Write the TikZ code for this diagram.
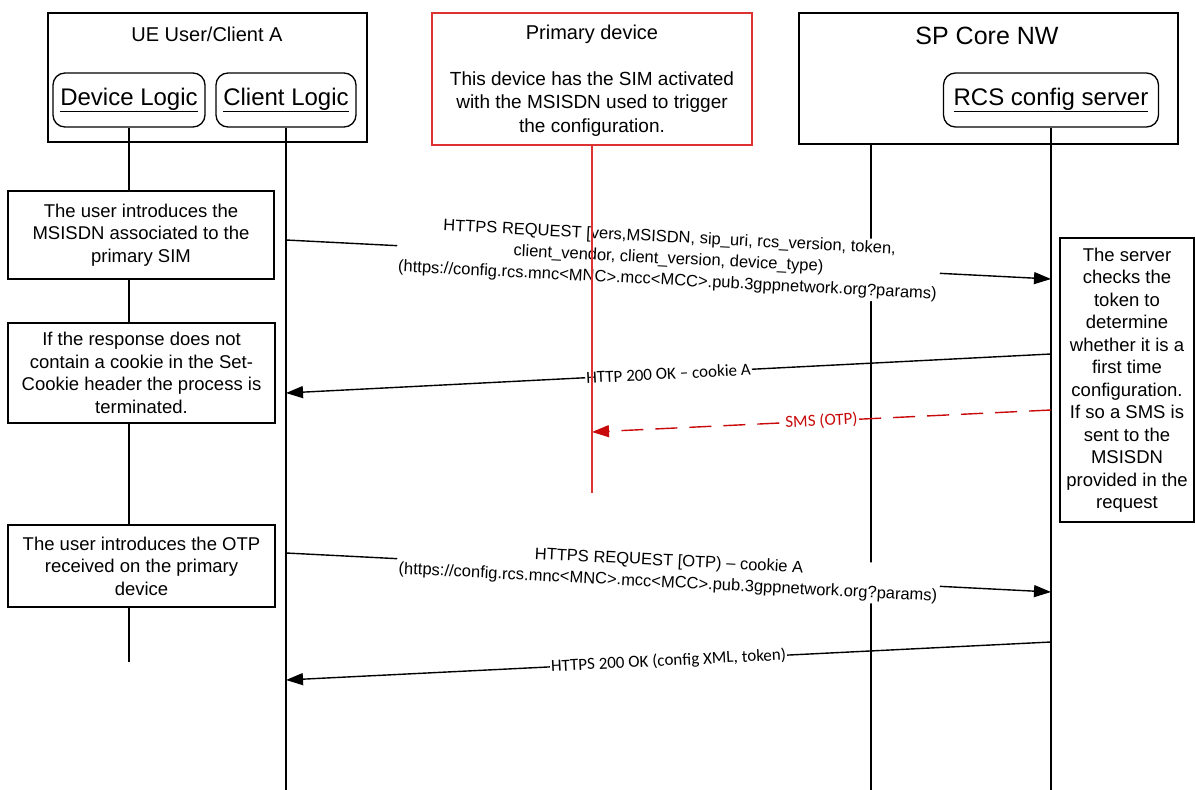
\documentclass[tikz,border=0pt]{standalone}
\usepackage{fontspec}
\setmainfont{Liberation Sans}
\newfontfamily\calibfont{Carlito}
\usetikzlibrary{arrows.meta}

\definecolor{simred}{RGB}{222,50,50}
\definecolor{smsred}{RGB}{200,10,10}

\tikzset{
  grpbox/.style={draw, line width=1.3pt, inner sep=0pt},
  logicbox/.style={draw, line width=1.3pt, rounded corners=12pt, inner sep=0pt,
    font=\fontsize{24}{28}\selectfont},
  notebox/.style={draw, fill=white, line width=1.3pt, inner sep=0pt, align=center,
    font=\fontsize{18.5}{22.5}\selectfont},
  lifeline/.style={line width=1.1pt},
  msg/.style={line width=1.4pt, -{Triangle[length=17pt,width=12pt]}},
  msglbl/.style={fill=white, inner sep=2pt, align=center,
    font=\fontsize{16.5}{21.5}\selectfont},
  acklbl/.style={fill=white, inner sep=1pt, font=\calibfont\fontsize{17}{20}\selectfont},
}

\begin{document}
\begin{tikzpicture}[x=1pt, y=-1pt]

  \useasboundingbox (0,0) rectangle (1195,790);

  % heads: UE (48..367), primary (432..752), core (799..1178)
  \node[grpbox, minimum width=319, minimum height=129] (ue) at (207.5,77.5) {};
  \node[font=\fontsize{20}{24}\selectfont] (ueTitle) at (207,34) {UE User/Client A};
  \node[logicbox, minimum width=152, minimum height=54] (devlogic) at (129,100) {\underline{Device Logic}};
  \node[logicbox, minimum width=140, minimum height=54] (clilogic) at (286,100) {\underline{Client Logic}};

  \node[grpbox, draw=simred, minimum width=320, minimum height=132] (primary) at (592,79) {};
  \node[font=\fontsize{20}{24}\selectfont] (primaryTitle) at (592,34) {Primary device};
  \node[align=center, font=\fontsize{19}{23.5}\selectfont] (primaryTxt) at (592,104)
    {This device has the SIM activated\\with the MSISDN used to trigger\\the configuration.};

  \node[grpbox, minimum width=379, minimum height=131] (spcore) at (988.5,78.5) {};
  \node[font=\fontsize{25}{30}\selectfont] (spTitle) at (987,36) {SP Core NW};
  \node[logicbox, minimum width=215, minimum height=54] (rcscfg) at (1051,100) {\underline{RCS config server}};

  % lifeline ends
  \coordinate (spTop)  at (871,144);
  \coordinate (spEnd)  at (871,790);
  \coordinate (cliEnd) at (286,790);
  \coordinate (rcsEnd) at (1051,790);
  \coordinate (devEnd) at (129,662);
  \coordinate (priEnd) at (592,493);

  % notes
  \node[notebox, minimum width=266, minimum height=88] (enterMsisdn) at (141,235)
    {The user introduces the\\MSISDN associated to the\\primary SIM};
  \node[notebox, minimum width=267, minimum height=100] (noCookie) at (141.5,373)
    {If the response does not\\contain a cookie in the Set-\\Cookie header the process is\\terminated.};
  \node[notebox, minimum width=267, minimum height=82] (enterOtp) at (141.5,566)
    {The user introduces the OTP\\received on the primary\\device};
  \node[notebox, minimum width=134, minimum height=284] (srvCheck) at (1127,380)
    {The server\\checks the\\token to\\determine\\whether it is a\\first time\\configuration.\\If so a SMS is\\sent to the\\MSISDN\\provided in the\\request};

  \draw[lifeline] (devlogic.south) -- (devlogic.south |- enterMsisdn.north);
  \draw[lifeline] (devlogic.south |- enterMsisdn.south) -- (devlogic.south |- noCookie.north);
  \draw[lifeline] (devlogic.south |- noCookie.south) -- (devlogic.south |- enterOtp.north);
  \draw[lifeline] (devlogic.south |- enterOtp.south) -- (devEnd);
  \draw[lifeline] (clilogic.south) -- (cliEnd);
  \draw[lifeline] (spTop) -- (spEnd);
  \draw[lifeline] (rcscfg.south) -- (rcsEnd);

  % message ends, slope about 39/764
  \coordinate (cliA) at (286,240);  \coordinate (rcsA) at (1051,279);
  \coordinate (rcsB) at (1051,354); \coordinate (cliB) at (286,393);
  \coordinate (rcsC) at (1051,410); \coordinate (priC) at (592,432);
  \coordinate (cliD) at (286,553);  \coordinate (rcsD) at (1051,592);
  \coordinate (rcsE) at (1051,642); \coordinate (cliE) at (286,680);

  \draw[msg] (cliA) -- node[msglbl, sloped] (reqLbl)
    {HTTPS REQUEST [vers,MSISDN, sip\_uri, rcs\_version, token,\\client\_vendor, client\_version, device\_type)\\(https://config.rcs.mnc<MNC>.mcc<MCC>.pub.3gppnetwork.org?params)} (rcsA);
  \draw[msg] (rcsB) -- node[acklbl, sloped] (cookieLbl) {HTTP 200 OK – cookie A} (cliB);
  \draw[msg, smsred, dash pattern=on 22pt off 12pt] (rcsC) -- node[acklbl, sloped, text=smsred] (smsLbl) {SMS (OTP)} (priC);
  \draw[msg] (cliD) -- node[msglbl, sloped] (otpLbl)
    {HTTPS REQUEST [OTP) – cookie A\\(https://config.rcs.mnc<MNC>.mcc<MCC>.pub.3gppnetwork.org?params)} (rcsD);
  \draw[msg] (rcsE) -- node[acklbl, sloped] (xmlLbl) {HTTPS 200 OK (config XML, token)} (cliE);

  % red one goes over the labels
  \draw[lifeline, simred] (primary.south) -- (priEnd);

\end{tikzpicture}
\end{document}
